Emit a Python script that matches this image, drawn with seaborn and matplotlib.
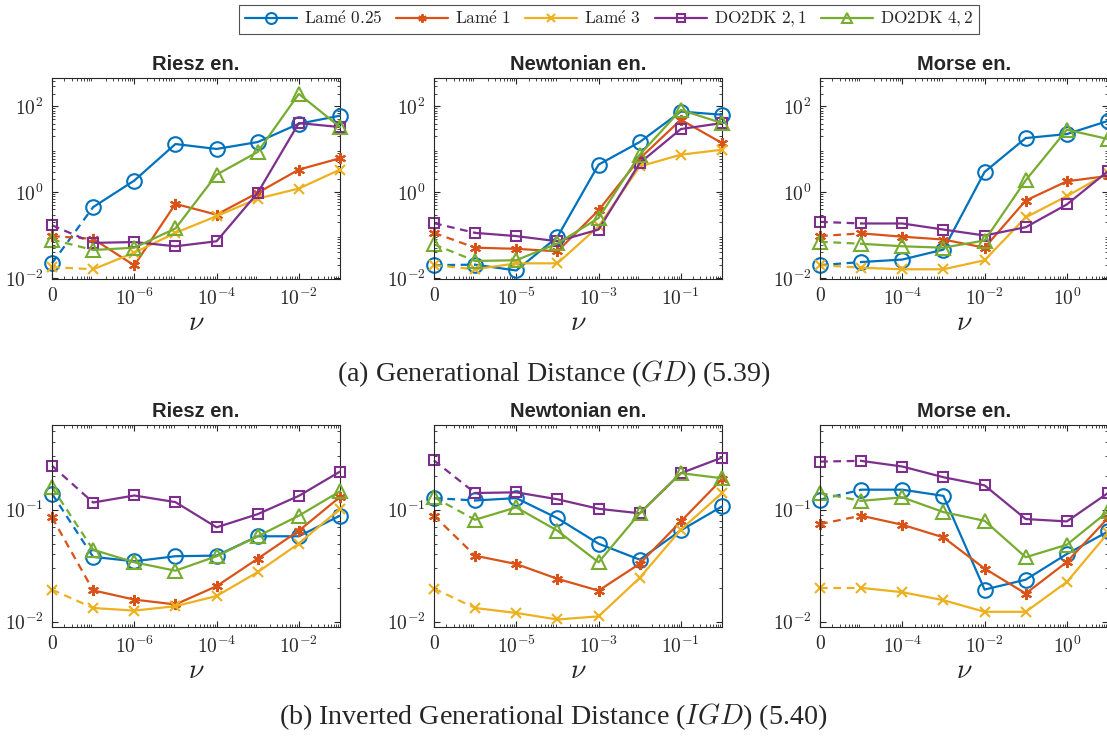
import numpy as np
import pandas as pd
import matplotlib
matplotlib.use('Agg')
import matplotlib.pyplot as plt
import seaborn as sns
from matplotlib.ticker import LogLocator, NullFormatter
from matplotlib.lines import Line2D

# ---- data ----
series_names = ['Lamé 0.25', 'Lamé 1', 'Lamé 3', 'DO2DK 2,1', 'DO2DK 4,2']
legend_labels = [r'$\mathrm{Lam\acute{e}\ 0.25}$', r'$\mathrm{Lam\acute{e}\ 1}$',
                 r'$\mathrm{Lam\acute{e}\ 3}$', r'$\mathrm{DO2DK}\ 2,1$', r'$\mathrm{DO2DK}\ 4,2$']
colors = ['#0072BD', '#D95319', '#EDB120', '#7E2F8E', '#77AC30']
markers = ['o', (6, 2, 0), 'x', 's', '^']
msizes = [10.5, 8, 7, 7, 10.5]

nu_riesz = [0, 1e-7, 1e-6, 1e-5, 1e-4, 1e-3, 1e-2, 1e-1]
nu_newton = [0, 1e-6, 1e-5, 1e-4, 1e-3, 1e-2, 1e-1, 1]
nu_morse = [0, 1e-5, 1e-4, 1e-3, 1e-2, 1e-1, 1, 10]

xticks_riesz = [0, 1e-6, 1e-4, 1e-2]
xticks_newton = [0, 1e-5, 1e-3, 1e-1]
xticks_morse = [0, 1e-4, 1e-2, 1]
xticklabels_riesz = ['$0$', '$10^{-6}$', '$10^{-4}$', '$10^{-2}$']
xticklabels_newton = ['$0$', '$10^{-5}$', '$10^{-3}$', '$10^{-1}$']
xticklabels_morse = ['$0$', '$10^{-4}$', '$10^{-2}$', '$10^{0}$']

# (a) Generational Distance
gd_riesz = [
    [0.022, 0.45, 1.87, 13.3, 10.2, 14.8, 39.5, 60.9],
    [0.095, 0.082, 0.0197, 0.535, 0.30, 0.97, 3.37, 6.2],
    [0.018, 0.016, 0.039, 0.113, 0.277, 0.71, 1.22, 3.37],
    [0.17, 0.066, 0.069, 0.055, 0.072, 0.97, 41, 33],
    [0.079, 0.045, 0.051, 0.143, 2.57, 8.7, 196, 33],
]
gd_newton = [
    [0.020, 0.0205, 0.015, 0.091, 4.4, 14.8, 76, 64],
    [0.113, 0.051, 0.048, 0.042, 0.38, 6.1, 49, 14],
    [0.020, 0.016, 0.022, 0.022, 0.16, 4.0, 7.5, 9.8],
    [0.19, 0.113, 0.095, 0.072, 0.135, 4.8, 29.7, 41],
    [0.061, 0.025, 0.026, 0.064, 0.25, 7.5, 83, 41],
]
gd_morse = [
    [0.020, 0.0236, 0.027, 0.046, 2.97, 18.3, 22.7, 46],
    [0.095, 0.11, 0.092, 0.079, 0.051, 0.64, 1.80, 2.4],
    [0.020, 0.0174, 0.016, 0.016, 0.026, 0.26, 0.81, 2.8],
    [0.204, 0.187, 0.187, 0.135, 0.098, 0.153, 0.52, 3.1],
    [0.070, 0.063, 0.055, 0.051, 0.075, 1.9, 28.6, 17.4],
]

# (b) Inverted Generational Distance
igd_riesz = [
    [0.139, 0.038, 0.0347, 0.0385, 0.039, 0.058, 0.058, 0.0885],
    [0.0855, 0.0191, 0.0158, 0.0143, 0.0208, 0.0366, 0.065, 0.13],
    [0.0194, 0.0133, 0.0126, 0.0138, 0.017, 0.0278, 0.050, 0.102],
    [0.247, 0.116, 0.134, 0.117, 0.0697, 0.0914, 0.133, 0.219],
    [0.159, 0.044, 0.034, 0.0286, 0.0385, 0.058, 0.0885, 0.146],
]
igd_newton = [
    [0.127, 0.121, 0.127, 0.084, 0.0498, 0.0359, 0.0655, 0.107],
    [0.0885, 0.0389, 0.0328, 0.0242, 0.019, 0.033, 0.0787, 0.1875],
    [0.0198, 0.0133, 0.012, 0.0105, 0.0112, 0.0247, 0.0664, 0.141],
    [0.275, 0.141, 0.143, 0.124, 0.102, 0.093, 0.212, 0.292],
    [0.129, 0.0815, 0.105, 0.065, 0.034, 0.093, 0.212, 0.191],
]
igd_morse = [
    [0.123, 0.151, 0.151, 0.133, 0.0194, 0.0238, 0.0403, 0.064],
    [0.0745, 0.0885, 0.0735, 0.0567, 0.0299, 0.0179, 0.0342, 0.0843],
    [0.0201, 0.0201, 0.0184, 0.0156, 0.0123, 0.0123, 0.0227, 0.062],
    [0.269, 0.273, 0.243, 0.195, 0.165, 0.0826, 0.0787, 0.141],
    [0.141, 0.120, 0.129, 0.0953, 0.0797, 0.0377, 0.0488, 0.0966],
]

titles = ['Riesz en.', 'Newtonian en.', 'Morse en.']
captions = [r'(a) Generational Distance ($GD$) (5.39)',
            r'(b) Inverted Generational Distance ($IGD$) (5.40)']

# ---- style ----
sns.set_theme(style='ticks')
plt.rcParams['mathtext.fontset'] = 'cm'
plt.rcParams['font.family'] = ['Liberation Serif', 'DejaVu Serif']
plt.rcParams['xtick.direction'] = 'in'
plt.rcParams['ytick.direction'] = 'in'
plt.rcParams['xtick.top'] = True
plt.rcParams['ytick.right'] = True
plt.rcParams['axes.edgecolor'] = '#262626'
plt.rcParams['axes.linewidth'] = 0.8

W, H = 1107, 738
fig = plt.figure(figsize=(W / 100, H / 100), dpi=100)


def px_axes(left, top, right, bottom):
    return fig.add_axes([left / W, 1 - bottom / H, (right - left) / W, (bottom - top) / H])


def zero_pos(nu):
    # the "0" entry is drawn one decade left of the smallest nonzero nu
    return [v if v > 0 else nu[1] / 10 for v in nu]


def draw_panel(ax, nu, data, xticks, xticklabels, ylim, yticks, yticklabels, title):
    xs = zero_pos(nu)
    for i, ys in enumerate(data):
        c = colors[i]
        mk = dict(marker=markers[i], markersize=msizes[i], markerfacecolor='none',
                  markeredgecolor=c, markeredgewidth=1.5, clip_on=False)
        df = pd.DataFrame({'nu': xs[1:], 'val': ys[1:]})
        sns.lineplot(data=df, x='nu', y='val', ax=ax, color=c, linewidth=1.6,
                     estimator=None, sort=False, zorder=3, **mk)
        df0 = pd.DataFrame({'nu': xs[:2], 'val': ys[:2]})
        sns.lineplot(data=df0, x='nu', y='val', ax=ax, color=c, linewidth=1.6,
                     linestyle=(0, (3.5, 2.5)), estimator=None, sort=False, zorder=2,
                     markevery=[0], **mk)
    ax.set_xscale('log')
    ax.set_yscale('log')
    ax.set_xlim(xs[0], xs[-1])
    ax.set_ylim(*ylim)
    ax.set_xticks([xs[0]] + xticks[1:])
    ax.set_xticklabels(xticklabels)
    ax.xaxis.set_minor_locator(LogLocator(base=10, subs=np.arange(2, 10), numticks=50))
    ax.xaxis.set_minor_formatter(NullFormatter())
    ax.set_yticks(yticks)
    ax.set_yticklabels(yticklabels)
    ax.yaxis.set_minor_locator(LogLocator(base=10, subs=np.arange(2, 10), numticks=50))
    ax.yaxis.set_minor_formatter(NullFormatter())
    ax.tick_params(which='major', length=4, width=0.8, labelsize=14, colors='#262626', pad=6)
    ax.tick_params(which='minor', length=2, width=0.6)
    ax.set_xlabel(r'$\nu$', fontsize=20, labelpad=2, color='#262626')
    ax.set_ylabel('')
    ax.set_title(title, fontsize=14.5, fontweight='bold', family='Liberation Sans', pad=6)
    ax.grid(False)


lefts = [52, 434, 820]
width = 288
rows = [
    (78, 279, [gd_riesz, gd_newton, gd_morse], (0.0095, 460), [1e-2, 1, 1e2],
     ['$10^{-2}$', '$10^{0}$', '$10^{2}$']),
    (425, 627, [igd_riesz, igd_newton, igd_morse], (0.009, 0.57), [1e-2, 1e-1],
     ['$10^{-2}$', '$10^{-1}$']),
]
nus = [nu_riesz, nu_newton, nu_morse]
xts = [xticks_riesz, xticks_newton, xticks_morse]
xtls = [xticklabels_riesz, xticklabels_newton, xticklabels_morse]

for top, bottom, datasets, ylim, yticks, ytl in rows:
    for j in range(3):
        ax = px_axes(lefts[j], top, lefts[j] + width, bottom)
        draw_panel(ax, nus[j], datasets[j], xts[j], xtls[j], ylim, yticks, ytl, titles[j])

fig.text(0.5, 1 - 374 / H, captions[0], ha='center', va='center', fontsize=20.2)
fig.text(0.5, 1 - 717 / H, captions[1], ha='center', va='center', fontsize=20.2)

handles = [Line2D([], [], color=colors[i], linewidth=1.6, marker=markers[i],
                  markersize=msizes[i] * 0.75, markerfacecolor='none',
                  markeredgecolor=colors[i], markeredgewidth=1.5)
           for i in range(5)]
leg = fig.legend(handles, legend_labels, loc='upper center', bbox_to_anchor=(609 / W, 1 - 5 / H),
                 ncol=5, fontsize=12.5, frameon=True, fancybox=False, handlelength=3.0,
                 columnspacing=0.8, handletextpad=0.4, borderpad=0.3, borderaxespad=0)
leg.get_frame().set_edgecolor('#262626')
leg.get_frame().set_linewidth(0.8)

fig.savefig('out.png', dpi=100)
